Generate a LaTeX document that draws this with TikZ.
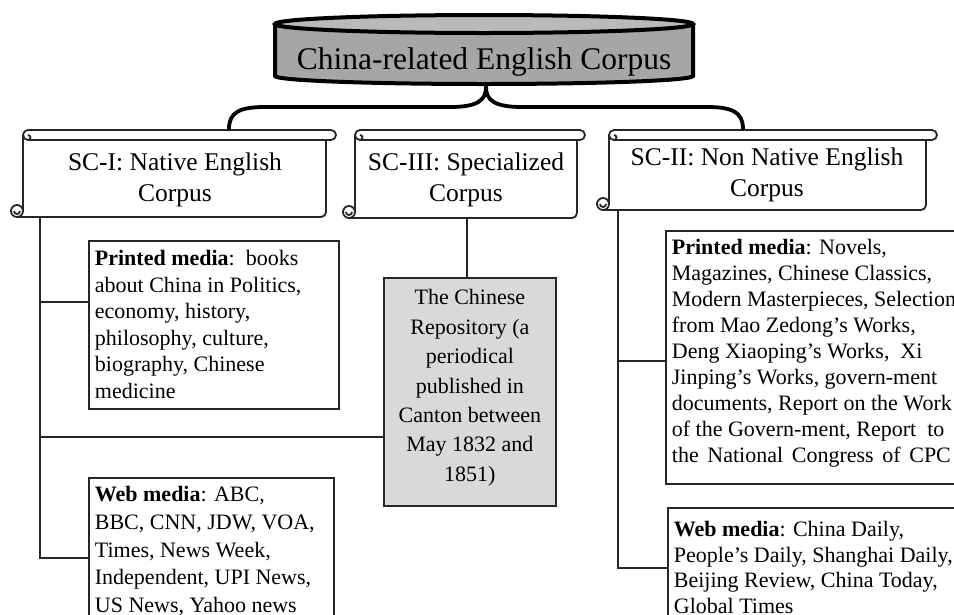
\documentclass[tikz,border=0pt]{standalone}
\usepackage{fontspec}
\setmainfont{Liberation Serif}
\newcommand{\mediatext}[5]{\begin{minipage}[c][#2][t]{#1}\fontsize{22}{#5}\selectfont\raggedright\rule{0pt}{#3}#4\end{minipage}}
\newcommand{\drawscroll}[5]{%
  \fill[white] (#1,#3+5) rectangle (#2,#4);
  \draw[scrollline] (#1,#3+5) -- (#1,#4-6);
  \draw[scrollline,fill=white] (#1-6,#4-6) circle (6);
  \draw[scrollline] (#1-3,#4-6) arc (0:180:3);
  \draw[scrollline] (#1-6,#4) -- (#2-5,#4) arc (90:0:5) -- (#2,#3+10);
  \draw[scrollline,fill=white] (#1+5,#3) -- (#5-5,#3) arc (-90:90:5) -- (#1+5,#3+10) arc (90:270:5) -- cycle;
  \draw[scrollline] (#1+5,#3+5) arc (-90:90:2.5);
}
\definecolor{cylbody}{HTML}{A6A6A9}
\definecolor{cyltop}{HTML}{BABABD}
\definecolor{repfill}{HTML}{D9D9DB}
\tikzset{
  scrollline/.style={line width=1.8pt, black!85, line join=round},
  conn/.style={line width=1.8pt, black!85},
  mediabox/.style={draw=black!85, line width=1.8pt, fill=white, anchor=north west, inner xsep=6pt, inner ysep=0pt},
  head/.style={align=center, font=\fontsize{25.5}{31}\selectfont},
  brace/.style={line width=3.8pt, line cap=round},
}
\begin{document}
\begin{tikzpicture}[x=1pt,y=-1pt]
\clip (0,0) rectangle (954,614);
\fill[white] (0,0) rectangle (954,614);

% title cylinder
\fill[cylbody] (275,24) -- (275,76) arc (180:0:209 and 8) -- (693,24) -- cycle;
\draw[line width=4pt] (275,24) -- (275,76) arc (180:0:209 and 8) -- (693,24);
\draw[line width=4pt, fill=cyltop] (484,24) ellipse (209 and 9);
\node[font=\fontsize{31.5}{36}\selectfont] (title) at (484,62) {China-related English Corpus};

% scrolls
\drawscroll{23}{326}{130}{217}{336}
\drawscroll{355}{577}{130}{218}{585}
\drawscroll{609}{926}{130}{210}{937}
\node[head] (sc1) at (175,180) {SC-I: Native English\\Corpus};
\node[head] (sc3) at (466,180) {SC-III: Specialized\\Corpus};
\node[head] (sc2) at (767,175) {SC-II: Non Native English\\Corpus};

% brace
\coordinate (tip) at (486,87);
\coordinate (bl) at (229,129);
\coordinate (br) at (743,129);
\draw[brace] (bl) .. controls (229,112) and (240,107) .. (265,107) -- (450,107) .. controls (478,107) and (486,100) .. (tip);
\draw[brace] (br) .. controls (743,112) and (732,107) .. (707,107) -- (522,107) .. controls (494,107) and (486,100) .. (tip);

% media boxes
\node[mediabox] (pm1) at (88,240) {\mediatext{238pt}{168pt}{25pt}{\textbf{Printed media}:\ \ books\\about China in Politics,\\economy, history,\\philosophy, culture,\\biography, Chinese\\medicine}{26.5}};
\node[mediabox] (web1) at (88,477) {\mediatext{233pt}{160pt}{24pt}{\textbf{Web media}: ABC,\\BBC, CNN, JDW, VOA,\\Times, News Week,\\Independent, UPI News,\\US News, Yahoo news}{27.6}};
\node[mediabox, fill=repfill] (rep) at (383,277) {\mediatext{160pt}{228pt}{27pt}{\centering The Chinese\\Repository (a\\periodical\\published in\\Canton between\\May 1832 and\\1851)}{29.4}};
\node[mediabox] (pm2) at (665,230) {\mediatext{300pt}{253pt}{24pt}{\textbf{Printed media}: Novels,\\Magazines, Chinese Classics,\\Modern Masterpieces, Selections\\from Mao Zedong's Works,\\Deng Xiaoping’s Works,\ \ Xi\\Jinping’s Works, govern-ment\\documents, Report on the Work\\of the Govern-ment, Report\ \ to\\\makebox[279pt][s]{the National Congress of CPC}}{26}};
\node[mediabox] (web2) at (667,507) {\mediatext{300pt}{130pt}{29pt}{\textbf{Web media}: China Daily,\\People’s Daily, Shanghai Daily,\\Beijing Review, China Today,\\Global Times}{25.5}};

% connectors
\coordinate (sc1b) at (40,217);
\coordinate (pm1in) at (88,302);
\coordinate (repin) at (383,437);
\coordinate (web1in) at (88,558);
\draw[conn] (sc1b) |- (web1in);
\draw[conn] (pm1in) -| (sc1b);
\draw[conn] (repin) -| (sc1b);

\coordinate (sc3b) at (467,218);
\draw[conn] (sc3b) -- (sc3b |- rep.north);

\coordinate (sc2b) at (618,210);
\coordinate (pm2in) at (665,361);
\coordinate (web2in) at (667,568);
\draw[conn] (sc2b) |- (web2in);
\draw[conn] (pm2in) -| (sc2b);
\end{tikzpicture}
\end{document}
